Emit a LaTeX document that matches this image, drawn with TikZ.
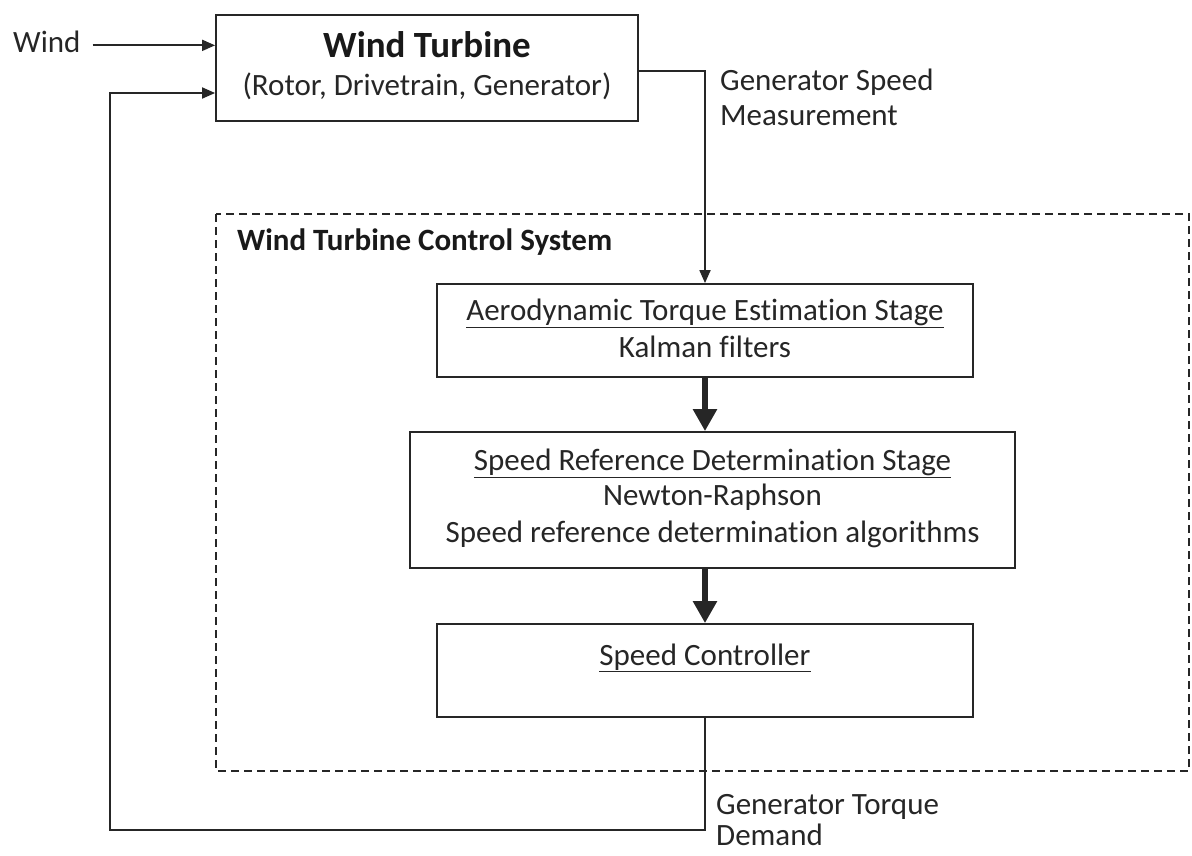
\documentclass[tikz,border=0pt]{standalone}
\usepackage{fontspec}
\setmainfont{Carlito}[Ligatures=NoCommon]
\usetikzlibrary{arrows.meta,calc}
\begin{document}
\begin{tikzpicture}[x=1pt,y=-1pt,
  blk/.style={draw=black!85,line width=1.8pt,fill=none,inner sep=0pt},
  txt/.style={inner sep=0pt,text=black!85,font=\fontsize{31}{36}\selectfont},
  ttl/.style={inner sep=0pt,text=black!90,font=\fontsize{37}{40}\selectfont\bfseries},
  hdr/.style={inner sep=0pt,text=black!90,font=\fontsize{31}{36}\selectfont\bfseries},
  arr/.style={draw=black!85,line width=1.8pt,-{Triangle[length=13pt,width=11pt]}},
  fat/.style={draw=black!85,line width=6pt,-{Triangle[length=22pt,width=23pt]}},
  dsh/.style={draw=black!85,line width=1.8pt,dash pattern=on 8pt off 5pt}]
\useasboundingbox (0,0) rectangle (1192,855);
% boxes
\node[blk,minimum width=422pt,minimum height=106pt] (wt) at (427,68) {};
\node[blk,minimum width=536pt,minimum height=93pt] (aero) at (705,330.5) {};
\node[blk,minimum width=605pt,minimum height=136pt] (sr) at (712.5,500) {};
\node[blk,minimum width=536pt,minimum height=93pt] (sc) at (705,670.5) {};
\draw[dsh] (216,214) rectangle (1189,771);
% texts
\node[txt,anchor=base west] (wind) at (13,52) {Wind};
\node[ttl,anchor=base] (wtt) at (427,57) {Wind Turbine};
\node[txt,anchor=base] (wts) at (427,95) {(Rotor, Drivetrain, Generator)};
\node[txt,anchor=base west] (gs1) at (720,90) {Generator Speed};
\node[txt,anchor=base west] (gs2) at (720,125) {Measurement};
\node[hdr,anchor=base west] (cs) at (237,250) {Wind Turbine Control System};
\node[txt,anchor=base] (at1) at (705,320) {\underline{Aerodynamic Torque Estimation Stage}};
\node[txt,anchor=base] (at2) at (705,357) {Kalman filters};
\node[txt,anchor=base] (sr1) at (712.5,470) {\underline{Speed Reference Determination Stage}};
\node[txt,anchor=base] (sr2) at (712.5,505) {Newton-Raphson};
\node[txt,anchor=base] (sr3) at (712.5,542) {Speed reference determination algorithms};
\node[txt,anchor=base] (sc1) at (705,665) {\underline{Speed Controller}};
\node[txt,anchor=base west] (gt1) at (716,814) {Generator Torque};
\node[txt,anchor=base west] (gt2) at (716,845) {Demand};
% connectors
\coordinate (w0) at ($(wind.east)+(12,4)$);
\draw[arr] (w0) -- (w0 -| wt.west);
\draw[arr] ($(wt.east)+(0,3)$) -| (aero.north);
\draw[fat] (aero.south) -- (aero.south |- sr.north);
\draw[fat] (sc.north |- sr.south) -- (sc.north);
\coordinate (fb) at (110,830);
\draw[arr] (sc.south) |- (fb) |- ($(wt.west)+(0,25)$);
\end{tikzpicture}
\end{document}
